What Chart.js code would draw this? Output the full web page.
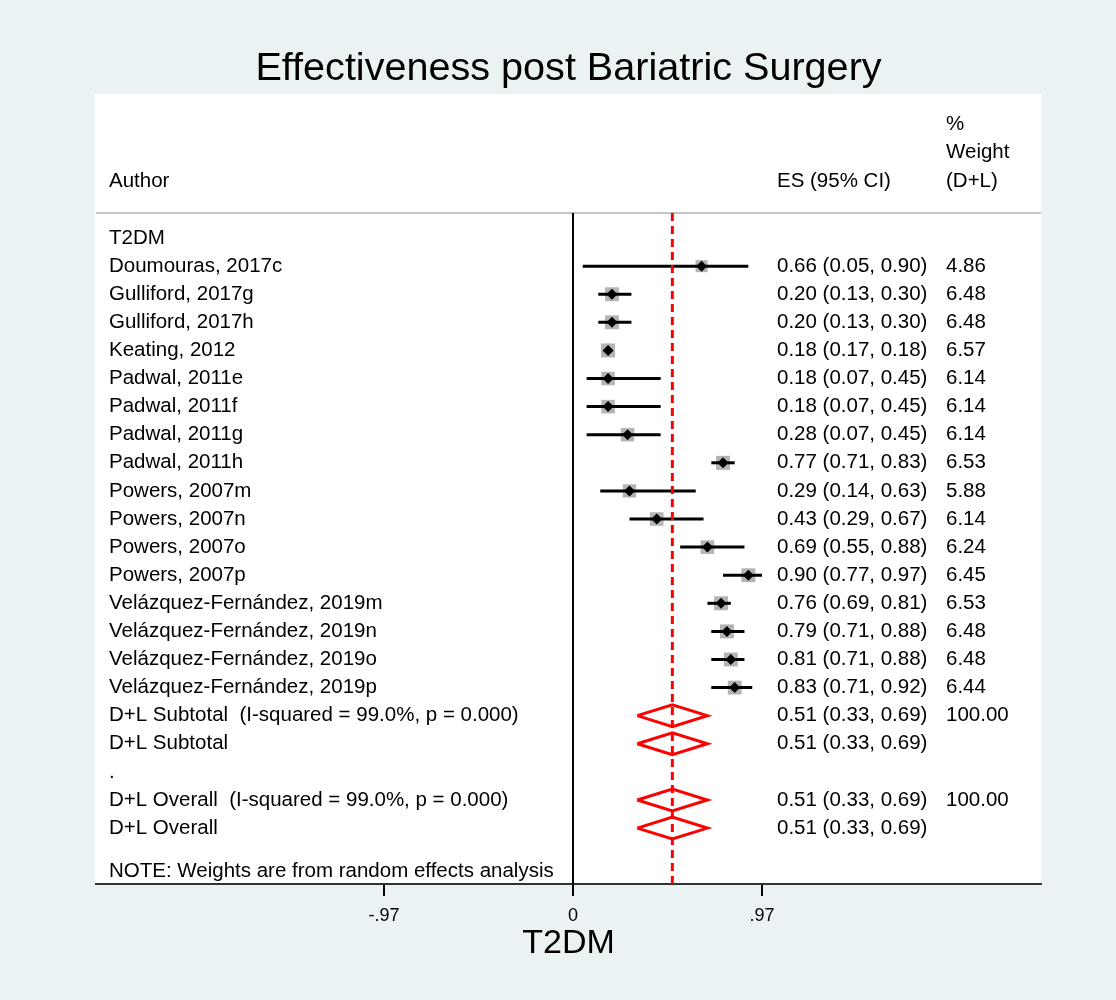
<!DOCTYPE html>
<html>
<head>
<meta charset="utf-8">
<title>Effectiveness post Bariatric Surgery</title>
<script src="https://cdn.jsdelivr.net/npm/chart.js@4.4.1/dist/chart.umd.min.js"></script>
<style>
  body { margin: 0; background: #eaf2f3; }
  canvas { display: block; }
</style>
</head>
<body>
<canvas id="forestPlot" width="1116" height="1000"></canvas>
<script>
// study level estimates (proportion, 95% CI, random effects weight %)
const groupLabel = "T2DM";
const authors = [
  "Doumouras, 2017c", "Gulliford, 2017g", "Gulliford, 2017h", "Keating, 2012",
  "Padwal, 2011e", "Padwal, 2011f", "Padwal, 2011g", "Padwal, 2011h",
  "Powers, 2007m", "Powers, 2007n", "Powers, 2007o", "Powers, 2007p",
  "Velázquez-Fernández, 2019m", "Velázquez-Fernández, 2019n",
  "Velázquez-Fernández, 2019o", "Velázquez-Fernández, 2019p"
];
const es      = [0.66, 0.20, 0.20, 0.18, 0.18, 0.18, 0.28, 0.77, 0.29, 0.43, 0.69, 0.90, 0.76, 0.79, 0.81, 0.83];
const ciLow   = [0.05, 0.13, 0.13, 0.17, 0.07, 0.07, 0.07, 0.71, 0.14, 0.29, 0.55, 0.77, 0.69, 0.71, 0.71, 0.71];
const ciHigh  = [0.90, 0.30, 0.30, 0.18, 0.45, 0.45, 0.45, 0.83, 0.63, 0.67, 0.88, 0.97, 0.81, 0.88, 0.88, 0.92];
const weights = [4.86, 6.48, 6.48, 6.57, 6.14, 6.14, 6.14, 6.53, 5.88, 6.14, 6.24, 6.45, 6.53, 6.48, 6.48, 6.44];

// pooled D+L estimates
const pooledLabels = [
  "D+L Subtotal  (I-squared = 99.0%, p = 0.000)", "D+L Subtotal",
  "D+L Overall  (I-squared = 99.0%, p = 0.000)", "D+L Overall"
];
const pooledES     = [0.51, 0.51, 0.51, 0.51];
const pooledLow    = [0.33, 0.33, 0.33, 0.33];
const pooledHigh   = [0.69, 0.69, 0.69, 0.69];
const pooledWeight = [100.00, null, 100.00, null];
const overallES = pooledES[pooledES.length - 1];

const xTicks = [-0.97, 0, 0.97];
const xTickLabels = ["-.97", "0", ".97"];
const note = "NOTE: Weights are from random effects analysis";

const FONT = "'Liberation Sans', Arial, Helvetica, sans-serif";
const CANVAS = document.getElementById("forestPlot");

// row layout: group header, studies, two subtotals, spacer, two overall rows
const nStudies = authors.length;
const studyRows = authors.map((a, i) => i + 1);
const pooledRows = [nStudies + 1, nStudies + 2, nStudies + 4, nStudies + 5];
const spacerRow = nStudies + 3;
const noteRow = nStudies + 6.53;
const yMin = -0.89, yMax = 22.99;
const diamondHalf = 0.39;

function fmt(v) { return v.toFixed(2); }
function ciText(e, l, h) { return fmt(e) + " (" + fmt(l) + ", " + fmt(h) + ")"; }

// background, white plot panel and header rule
const panel = {
  id: "panel",
  beforeDraw(chart) {
    const {ctx, chartArea: a} = chart;
    ctx.save();
    ctx.fillStyle = "#eaf2f3";
    ctx.fillRect(0, 0, chart.width, chart.height);
    ctx.fillStyle = "#ffffff";
    ctx.fillRect(a.left - 1, a.top - 119, a.right - a.left + 1, a.bottom - a.top + 119);
    ctx.strokeStyle = "#c4c4c4";
    ctx.lineWidth = 2;
    ctx.beginPath();
    ctx.moveTo(a.left, a.top);
    ctx.lineTo(a.right, a.top);
    ctx.stroke();
    ctx.restore();
  }
};

// text columns: author, ES (95% CI), % weight
const columns = {
  id: "columns",
  afterDatasetsDraw(chart) {
    const {ctx, chartArea: a, scales: {y}} = chart;
    const xAuthor = a.left + 13, xES = a.left + 681, xWt = a.left + 850;
    ctx.save();
    ctx.font = "20.5px " + FONT;
    ctx.fillStyle = "#000";
    ctx.textAlign = "left";
    ctx.textBaseline = "middle";

    ctx.fillText("Author", xAuthor, a.top - 32);
    ctx.fillText("ES (95% CI)", xES, a.top - 32);
    ["%", "Weight", "(D+L)"].forEach((t, k) => ctx.fillText(t, xWt, a.top - 89 + k * 28.5));

    ctx.fillText(groupLabel, xAuthor, y.getPixelForValue(0));
    authors.forEach((name, i) => {
      const py = y.getPixelForValue(studyRows[i]);
      ctx.fillText(name, xAuthor, py);
      ctx.fillText(ciText(es[i], ciLow[i], ciHigh[i]), xES, py);
      ctx.fillText(fmt(weights[i]), xWt, py);
    });
    pooledLabels.forEach((name, i) => {
      const py = y.getPixelForValue(pooledRows[i]);
      ctx.fillText(name, xAuthor, py);
      ctx.fillText(ciText(pooledES[i], pooledLow[i], pooledHigh[i]), xES, py);
      if (pooledWeight[i] !== null) ctx.fillText(fmt(pooledWeight[i]), xWt, py);
    });
    ctx.fillText(".", xAuthor, y.getPixelForValue(spacerRow));
    ctx.fillText(note, xAuthor, y.getPixelForValue(noteRow));
    ctx.restore();
  }
};

const ciSets = authors.map((a, i) => ({
  data: [{x: ciLow[i], y: studyRows[i]}, {x: ciHigh[i], y: studyRows[i]}],
  showLine: true,
  borderColor: "#000",
  borderWidth: 3,
  pointRadius: 0,
  order: 3
}));

const diamondSets = pooledRows.map((r, i) => ({
  data: [
    {x: pooledLow[i], y: r},
    {x: pooledES[i], y: r - diamondHalf},
    {x: pooledHigh[i], y: r},
    {x: pooledES[i], y: r + diamondHalf},
    {x: pooledLow[i], y: r}
  ],
  showLine: true,
  borderColor: "#ff0000",
  borderWidth: 3,
  borderJoinStyle: "miter",
  pointRadius: 0,
  order: 2
}));

let forest = new Chart(CANVAS, {
  type: "scatter",
  data: {
    datasets: [
      {
        // no-effect line
        data: [{x: 0, y: yMin}, {x: 0, y: yMax}],
        showLine: true,
        borderColor: "#000",
        borderWidth: 2,
        pointRadius: 0,
        order: 6
      },
      {
        // weight boxes, area proportional to weight
        data: authors.map((a, i) => ({x: es[i], y: studyRows[i]})),
        pointStyle: "rect",
        pointRadius: weights.map(w => 9.9 * Math.sqrt(w / 6.57)),
        backgroundColor: "#b4b4b4",
        borderWidth: 0,
        order: 5
      },
      ...ciSets,
      {
        // overall effect line
        data: [{x: overallES, y: yMin}, {x: overallES, y: yMax}],
        showLine: true,
        borderColor: "#ff0000",
        borderWidth: 3,
        borderDash: [8, 5],
        pointRadius: 0,
        order: 1
      },
      ...diamondSets,
      {
        // point estimates
        data: authors.map((a, i) => ({x: es[i], y: studyRows[i]})),
        pointStyle: "rectRot",
        pointRadius: 5.5,
        backgroundColor: "#000",
        borderWidth: 0,
        order: 0
      }
    ]
  },
  options: {
    responsive: false,
    animation: false,
    devicePixelRatio: 1,
    layout: { padding: { left: 96, right: 75, top: 0, bottom: 0 } },
    plugins: {
      legend: { display: false },
      tooltip: { enabled: false },
      title: {
        display: true,
        text: "Effectiveness post Bariatric Surgery",
        color: "#000",
        font: { family: FONT, size: 39.6, weight: "normal" },
        padding: { top: 45, bottom: 120.5 }
      }
    },
    scales: {
      x: {
        type: "linear",
        min: -2.448,
        max: 2.402,
        afterFit(scale) { scale.height = 116; },
        afterBuildTicks(scale) { scale.ticks = xTicks.map(v => ({value: v})); },
        ticks: {
          color: "#000",
          padding: 9,
          font: { family: FONT, size: 18 },
          callback(value) { return xTickLabels[xTicks.indexOf(value)]; }
        },
        grid: { drawOnChartArea: false, drawTicks: true, tickLength: 12, color: "#000", lineWidth: 2 },
        border: { display: true, color: "#333", width: 2 },
        title: {
          display: true,
          text: groupLabel,
          color: "#000",
          font: { family: FONT, size: 34 },
          padding: { top: 0, bottom: 35.6 }
        }
      },
      y: {
        type: "linear",
        display: false,
        reverse: true,
        min: yMin,
        max: yMax
      }
    }
  },
  plugins: [panel, columns]
});
</script>
</body>
</html>
